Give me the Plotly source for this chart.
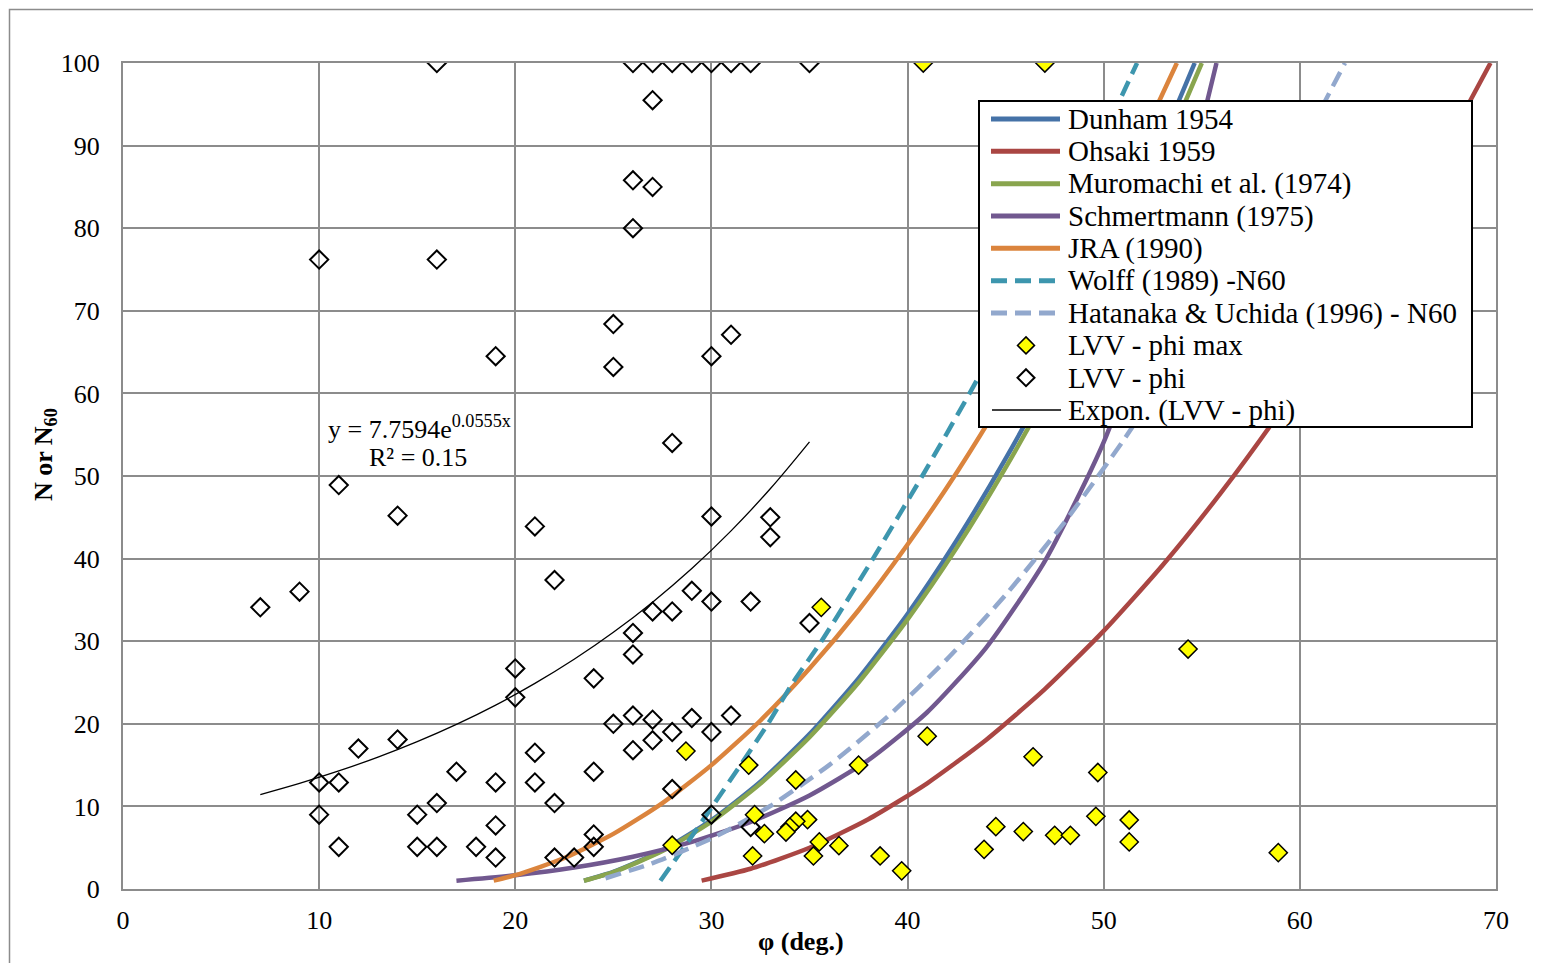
import plotly.graph_objects as go

# ---- Published correlations ----
dunham_phi = [23.5, 25, 27.5, 30, 32.5, 35, 37.5, 40, 42.5, 45, 47.5, 50, 52.5, 54.64]
dunham_n = [1.02, 2.08, 4.69, 8.33, 13.0, 18.75, 25.5, 33.3, 42.2, 52.1, 63.0, 75.0, 88.0, 100]

ohsaki_phi = [29.5, 32, 35, 38, 41, 44, 47, 50, 53, 56, 59, 62, 65, 68, 69.72]
ohsaki_n = [1.01, 2.45, 5.0, 8.45, 12.8, 18.05, 24.2, 31.25, 39.2, 48.05, 57.8, 68.45, 80.0, 92.45, 100]

muro_phi = [23.5, 25, 27.5, 30, 32.5, 35, 37.5, 40, 42.5, 45, 47.5, 50, 52.5, 55]
muro_n = [1.0, 2.04, 4.59, 8.16, 12.76, 18.37, 25.0, 32.65, 41.3, 51.0, 61.7, 73.5, 86.2, 100]

schm_phi = [17, 20, 23, 26, 29, 32, 35, 38, 41, 44, 47, 50, 53, 55.75]
schm_n = [0.99, 1.66, 2.6, 3.91, 5.7, 8.11, 11.33, 15.6, 21.4, 29.2, 39.7, 54.1, 74.2, 100]

jra_phi = [18.9, 20, 22.5, 25, 27.5, 30, 32.5, 35, 37.5, 40, 42.5, 45, 47.5, 50, 52.5, 53.73]
jra_n = [1.01, 1.67, 3.75, 6.67, 10.4, 15.0, 20.4, 26.7, 33.75, 41.7, 50.4, 60.0, 70.4, 81.7, 93.75, 100]

wolff_phi = [27.4, 28.59, 30.05, 31.48, 32.88, 34.16, 35.61, 38.24, 40.75, 43.16, 45.45, 47.64, 49.73, 51.7]
wolff_n = [1, 5, 10, 15, 20, 25, 30, 40, 50, 60, 70, 80, 90, 100]

hat_phi = [24.6, 27, 30, 33, 36, 39, 42, 45, 48, 51, 54, 57, 60, 62.3]
hat_n = [1.3, 3.14, 6.1, 10.05, 15.0, 20.9, 27.8, 35.6, 44.4, 54.3, 65.1, 76.8, 89.6, 100]

# ---- LVV data ----
phimax_x = [40.8, 47.0, 35.6, 28.7, 31.9, 34.3, 37.5, 41.0, 32.2, 28.0, 34.9, 34.3, 34.0, 33.8,
            32.7, 35.5, 36.5, 32.1, 35.2, 38.6, 39.7, 54.3, 46.4, 49.7, 49.6, 51.3, 51.3, 44.5,
            43.9, 45.9, 47.5, 48.3, 58.9]
phimax_y = [100, 100, 34.1, 16.7, 15.0, 13.2, 15.0, 18.5, 9.0, 5.3, 8.4, 8.2, 7.5, 6.9,
            6.7, 5.7, 5.25, 4.0, 4.0, 4.0, 2.2, 29.05, 16.0, 14.1, 8.8, 8.35, 5.7, 7.55,
            4.8, 6.95, 6.5, 6.5, 4.4]

phi_x = [7, 9, 10, 10, 10, 11, 11, 11, 12, 14, 14, 15, 15, 16, 16, 16, 16, 17, 18,
         19, 19, 19, 19, 20, 20, 21, 21, 21, 22, 22, 22, 23, 24, 24, 24, 24,
         25, 25, 25, 26, 26, 26, 26, 26, 26, 26, 27, 27, 27, 27, 27, 27,
         28, 28, 28, 28, 28, 29, 29, 29, 30, 30, 30, 30, 30, 30, 31, 31, 31,
         32, 32, 32, 33, 33, 35, 35]
phi_y = [34.1, 36, 76.2, 12.9, 9.0, 48.9, 12.9, 5.1, 17, 45.2, 18.1, 9.0, 5.1, 100, 76.2, 10.4, 5.1, 14.2, 5.1,
         64.5, 12.9, 7.7, 3.8, 26.7, 23.2, 43.9, 16.5, 12.9, 37.4, 10.4, 3.8, 3.8, 25.5, 14.2, 6.6, 5.1,
         68.4, 63.2, 20.0, 100, 85.8, 80.0, 31.0, 28.4, 21.0, 16.8, 100, 95.5, 85.0, 33.6, 20.5, 18.0,
         100, 54.0, 33.6, 19.0, 12.1, 100, 36.1, 20.7, 100, 64.5, 45.1, 34.8, 19.0, 9.0, 100, 67.1, 21.0,
         100, 34.8, 7.5, 45.0, 42.6, 100, 32.2]

# Exponential trendline y = 7.7594e^(0.0555x)
trend_x = [7, 9, 11, 13, 15, 17, 19, 21, 23, 25, 27, 29, 31, 33, 35]
trend_y = [11.44, 12.79, 14.29, 15.97, 17.84, 19.93, 22.27, 24.89, 27.81, 31.08, 34.73, 38.80, 43.36, 48.45, 54.13]

x_ticks = [0, 10, 20, 30, 40, 50, 60, 70]
y_ticks = [0, 10, 20, 30, 40, 50, 60, 70, 80, 90, 100]

FONT = "Liberation Serif"
DASH = "16px,8px"

series = [
    ("Dunham 1954", dunham_phi, dunham_n, "#4572A7", "solid"),
    ("Ohsaki 1959", ohsaki_phi, ohsaki_n, "#AA4643", "solid"),
    ("Muromachi et al. (1974)", muro_phi, muro_n, "#89A54E", "solid"),
    ("Schmertmann (1975)", schm_phi, schm_n, "#71588F", "solid"),
    ("JRA (1990)", jra_phi, jra_n, "#DB843D", "solid"),
    ("Wolff (1989) -N60", wolff_phi, wolff_n, "#3D96AE", DASH),
    ("Hatanaka & Uchida (1996) - N60", hat_phi, hat_n, "#92A8CD", DASH),
]

fig = go.Figure()
for name, xs, ys, col, dash in series:
    fig.add_trace(go.Scatter(x=xs, y=ys, mode="lines", name=name, showlegend=False,
                             line=dict(color=col, width=4.5, dash=dash, shape="spline", smoothing=0.6)))

fig.add_trace(go.Scatter(x=phi_x, y=phi_y, mode="markers", name="LVV - phi", showlegend=False,
                         marker=dict(symbol="diamond-open", size=14, color="black",
                                     line=dict(color="black", width=2))))
fig.add_trace(go.Scatter(x=phimax_x, y=phimax_y, mode="markers", name="LVV - phi max", showlegend=False,
                         marker=dict(symbol="diamond", size=14, color="#FFFF00",
                                     line=dict(color="black", width=1.5))))
fig.add_trace(go.Scatter(x=trend_x, y=trend_y, mode="lines", name="Expon. (LVV - phi)", showlegend=False,
                         line=dict(color="black", width=1.3, shape="spline")))

# ---- layout geometry: plot area spans page pixels x 123..1496, y 63..889 ----
PL, PR, PT, PB = 123, 1496, 63, 889
W, H = PR - PL, PB - PT


def px(x):
    return (x - PL) / W


def py(y):
    return (PB - y) / H


shapes = []
annotations = []

# outer chart border
shapes.append(dict(type="rect", xref="paper", yref="paper", x0=px(9.5), x1=px(1560), y0=py(990), y1=py(9.5),
                   line=dict(color="#8C8C8C", width=1.5), fillcolor="rgba(0,0,0,0)", layer="below"))

# trendline equation
annotations.append(dict(x=px(419), y=py(427), xref="paper", yref="paper", showarrow=False,
                        text="y = 7.7594e<sup>0.0555x</sup>", xanchor="center", yanchor="middle",
                        font=dict(family=FONT, size=26, color="black")))
annotations.append(dict(x=px(418), y=py(457), xref="paper", yref="paper", showarrow=False,
                        text="R² = 0.15", xanchor="center", yanchor="middle",
                        font=dict(family=FONT, size=26, color="black")))

# axis titles
annotations.append(dict(x=px(45), y=py(455), xref="paper", yref="paper", showarrow=False,
                        text="<b>N or N<sub>60</sub></b>", textangle=-90,
                        xanchor="center", yanchor="middle",
                        font=dict(family=FONT, size=26, color="black")))
annotations.append(dict(x=px(801), y=py(942), xref="paper", yref="paper", showarrow=False,
                        text="<b>φ (deg.)</b>", xanchor="center", yanchor="middle",
                        font=dict(family=FONT, size=26, color="black")))

# ---- legend (drawn box) ----
shapes.append(dict(type="rect", xref="paper", yref="paper", x0=px(979), x1=px(1472), y0=py(427), y1=py(101),
                   line=dict(color="black", width=2), fillcolor="white", layer="above"))
rows = [119, 151.3, 183.7, 216, 248.3, 280.7, 313, 345.4, 377.7, 410]
for (name, _, _, col, dash), ry in zip(series, rows):
    shapes.append(dict(type="line", xref="paper", yref="paper", x0=px(991), x1=px(1060), y0=py(ry), y1=py(ry),
                       line=dict(color=col, width=5, dash=dash), layer="above"))
    annotations.append(dict(x=px(1066), y=py(ry), xref="paper", yref="paper", showarrow=False,
                            text=name, xanchor="left", yanchor="middle",
                            font=dict(family=FONT, size=29, color="black")))


def diamond_path(cx, cy, r):
    return (f"M {px(cx)},{py(cy - r)} L {px(cx + r)},{py(cy)} "
            f"L {px(cx)},{py(cy + r)} L {px(cx - r)},{py(cy)} Z")


shapes.append(dict(type="path", xref="paper", yref="paper", path=diamond_path(1026, rows[7], 8.5),
                   fillcolor="#FFFF00", line=dict(color="black", width=1.5), layer="above"))
annotations.append(dict(x=px(1066), y=py(rows[7]), xref="paper", yref="paper", showarrow=False,
                        text="LVV - phi max", xanchor="left", yanchor="middle",
                        font=dict(family=FONT, size=29, color="black")))
shapes.append(dict(type="path", xref="paper", yref="paper", path=diamond_path(1026, rows[8], 8.5),
                   fillcolor="white", line=dict(color="black", width=2), layer="above"))
annotations.append(dict(x=px(1066), y=py(rows[8]), xref="paper", yref="paper", showarrow=False,
                        text="LVV - phi", xanchor="left", yanchor="middle",
                        font=dict(family=FONT, size=29, color="black")))
shapes.append(dict(type="line", xref="paper", yref="paper", x0=px(992), x1=px(1061), y0=py(rows[9]), y1=py(rows[9]),
                   line=dict(color="black", width=1.3), layer="above"))
annotations.append(dict(x=px(1066), y=py(rows[9]), xref="paper", yref="paper", showarrow=False,
                        text="Expon. (LVV - phi)", xanchor="left", yanchor="middle",
                        font=dict(family=FONT, size=29, color="black")))

# page body has an 8px margin: figure is placed at (8, 8)
OFF = 8
fig.update_layout(
    width=1541 - OFF, height=963 - OFF,
    margin=dict(l=PL - OFF, r=1541 - PR, t=PT - OFF, b=963 - PB, autoexpand=False),
    paper_bgcolor="white", plot_bgcolor="white",
    font=dict(family=FONT, size=26, color="black"),
    showlegend=False,
    shapes=shapes, annotations=annotations,
)
fig.update_xaxes(range=[0, 70], tickvals=x_ticks, showgrid=True, gridcolor="#8C8C8C", gridwidth=2,
                 showline=True, linecolor="#8C8C8C", linewidth=2, mirror=True, zeroline=False,
                 ticks="", ticklabelstandoff=7, automargin=False,
                 tickfont=dict(family=FONT, size=26, color="black"))
fig.update_yaxes(range=[0, 100], tickvals=y_ticks, showgrid=True, gridcolor="#8C8C8C", gridwidth=2,
                 showline=True, linecolor="#8C8C8C", linewidth=2, mirror=True, zeroline=False,
                 ticks="", ticklabelstandoff=16, automargin=False,
                 tickfont=dict(family=FONT, size=26, color="black"))

fig.write_html("out.html")
